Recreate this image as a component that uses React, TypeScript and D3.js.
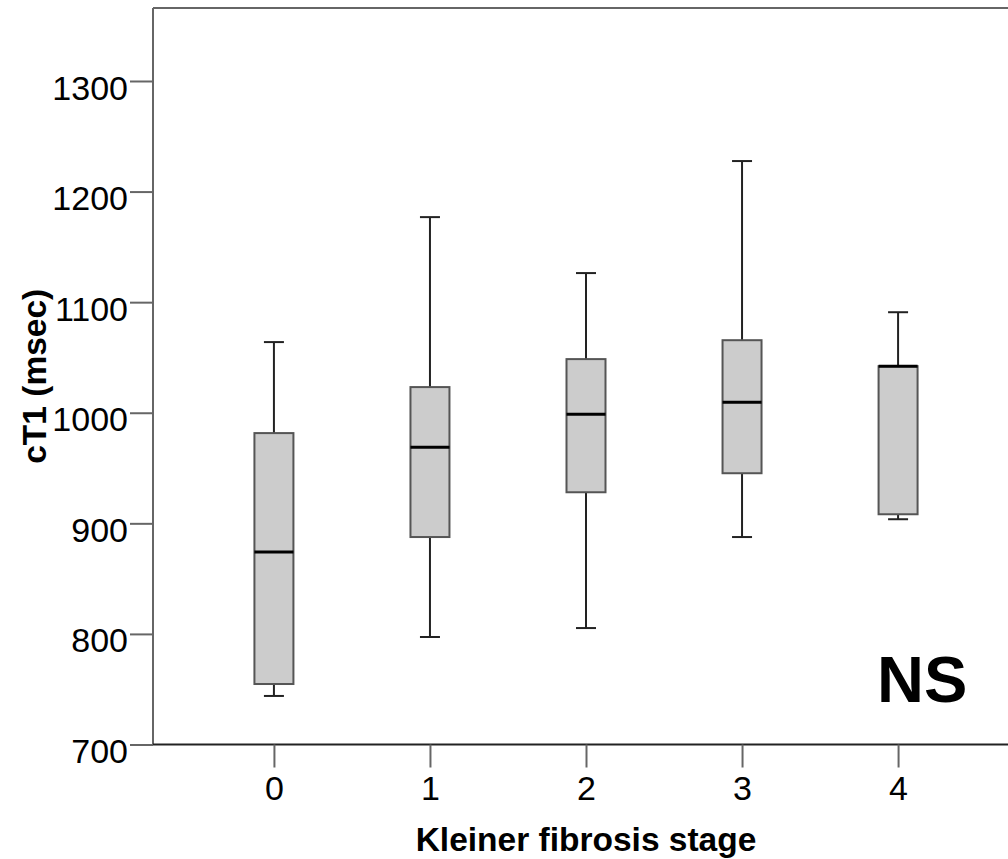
import { useEffect, useRef } from 'react';
import * as d3 from 'd3';

// Kleiner fibrosis stage vs cT1 (msec) box plot
const stages = ['0', '1', '2', '3', '4'];
const whiskerLow = [743.9, 797.2, 805.3, 887.6, 903.7];
const quartile1 = [754.7, 887.6, 928.1, 945.3, 908.2];
const medians = [874.0, 968.9, 998.6, 1009.5, 1042.1];
const quartile3 = [981.6, 1023.2, 1048.5, 1065.6, 1042.1];
const whiskerHigh = [1063.9, 1176.9, 1126.3, 1227.6, 1090.9];
const yTicks = [700, 800, 900, 1000, 1100, 1200, 1300];

const FONT = "'Liberation Sans', Arial, sans-serif";

const App = () => {
  const ref = useRef<SVGSVGElement | null>(null);
  const width = 1008;
  const height = 859;

  useEffect(() => {
    if (!ref.current) return;
    const svg = d3.select(ref.current);
    svg.selectAll('*').remove();

    const left = 153;
    const right = 1019;
    const top = 8;
    const bottom = 744.5;

    const x = d3.scalePoint<string>().domain(stages).range([left, right]).padding(0.775);
    const y = d3.scaleLinear().domain([700, 1366]).range([bottom, top]);

    const boxes = stages.map((s, i) => ({
      stage: s,
      low: whiskerLow[i],
      q1: quartile1[i],
      med: medians[i],
      q3: quartile3[i],
      high: whiskerHigh[i],
    }));

    const boxW = 39;
    const capW = 20;

    // top border
    svg
      .append('line')
      .attr('x1', left)
      .attr('x2', right)
      .attr('y1', top)
      .attr('y2', top)
      .attr('stroke', '#666')
      .attr('stroke-width', 2);

    // y axis
    const yAxis = svg
      .append('g')
      .attr('transform', `translate(${left},0)`)
      .call(
        d3
          .axisLeft(y)
          .tickValues(yTicks)
          .tickFormat(d3.format('d'))
          .tickSize(23)
          .tickPadding(2)
          .tickSizeOuter(0)
      );
    yAxis.select('.domain').attr('stroke', '#666').attr('stroke-width', 2).attr('d', `M0,${top}V${bottom}`);
    yAxis.selectAll('.tick line').attr('stroke', '#666').attr('stroke-width', 2);
    yAxis
      .selectAll('.tick text')
      .attr('font-family', FONT)
      .attr('font-size', 34)
      .attr('fill', '#000')
      .attr('dy', '0.53em');

    // x axis
    const xAxis = svg
      .append('g')
      .attr('transform', `translate(0,${bottom})`)
      .call(d3.axisBottom(x).tickSize(23).tickPadding(8).tickSizeOuter(0));
    xAxis.select('.domain').attr('stroke', '#222').attr('stroke-width', 2).attr('d', `M${left},0H${right}`);
    xAxis.selectAll('.tick line').attr('stroke', '#666').attr('stroke-width', 2);
    xAxis
      .selectAll('.tick text')
      .attr('font-family', FONT)
      .attr('font-size', 34)
      .attr('fill', '#000');

    const g = svg.append('g');
    const box = g
      .selectAll('g.box')
      .data(boxes)
      .enter()
      .append('g')
      .attr('class', 'box')
      .attr('transform', (d) => `translate(${x(d.stage)},0)`);

    // whiskers
    box
      .append('line')
      .attr('x1', 0)
      .attr('x2', 0)
      .attr('y1', (d) => y(d.q3))
      .attr('y2', (d) => y(d.high))
      .attr('stroke', '#222')
      .attr('stroke-width', 2);
    box
      .append('line')
      .attr('x1', 0)
      .attr('x2', 0)
      .attr('y1', (d) => y(d.q1))
      .attr('y2', (d) => y(d.low))
      .attr('stroke', '#222')
      .attr('stroke-width', 2);
    box
      .append('line')
      .attr('x1', -capW / 2)
      .attr('x2', capW / 2)
      .attr('y1', (d) => y(d.high))
      .attr('y2', (d) => y(d.high))
      .attr('stroke', '#222')
      .attr('stroke-width', 2);
    box
      .append('line')
      .attr('x1', -capW / 2)
      .attr('x2', capW / 2)
      .attr('y1', (d) => y(d.low))
      .attr('y2', (d) => y(d.low))
      .attr('stroke', '#222')
      .attr('stroke-width', 2);

    // boxes
    box
      .append('rect')
      .attr('x', -boxW / 2)
      .attr('width', boxW)
      .attr('y', (d) => y(d.q3))
      .attr('height', (d) => y(d.q1) - y(d.q3))
      .attr('fill', '#cccccc')
      .attr('stroke', '#555')
      .attr('stroke-width', 2);

    // medians
    box
      .append('line')
      .attr('x1', -boxW / 2)
      .attr('x2', boxW / 2)
      .attr('y1', (d) => y(d.med))
      .attr('y2', (d) => y(d.med))
      .attr('stroke', '#000')
      .attr('stroke-width', 3);

    // titles
    svg
      .append('text')
      .attr('x', (left + right) / 2)
      .attr('y', 851)
      .attr('text-anchor', 'middle')
      .attr('font-family', FONT)
      .attr('font-weight', 'bold')
      .attr('font-size', 33.5)
      .text('Kleiner fibrosis stage');

    svg
      .append('text')
      .attr('transform', `translate(46,${(top + bottom) / 2}) rotate(-90)`)
      .attr('text-anchor', 'middle')
      .attr('font-family', FONT)
      .attr('font-weight', 'bold')
      .attr('font-size', 33.5)
      .text('cT1 (msec)');

    svg
      .append('text')
      .attr('x', 877)
      .attr('y', 702)
      .attr('font-family', FONT)
      .attr('font-weight', 'bold')
      .attr('font-size', 65)
      .text('NS');
  }, []);

  return (
    <div style={{ position: 'absolute', left: 0, top: 0 }}>
      <svg ref={ref} width={width} height={height} style={{ display: 'block', background: '#fff' }} />
    </div>
  );
};

export default App;
